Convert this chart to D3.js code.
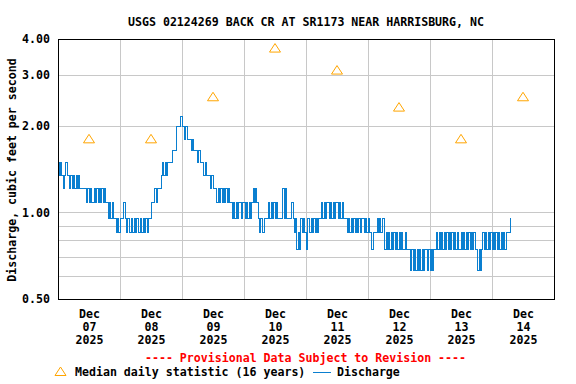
<!DOCTYPE html>
<html>
<head>
<meta charset="utf-8">
<script src="https://cdn.jsdelivr.net/npm/d3@7"></script>
<style>
body { margin: 0; background: #fff; }
svg text { font-family: "DejaVu Sans Mono", "Liberation Mono", monospace; font-weight: bold; font-size: 11.6px; fill: #000; }
</style>
</head>
<body>
<svg id="chart" width="576" height="384"></svg>
<script>
const title = "USGS 02124269 BACK CR AT SR1173 NEAR HARRISBURG, NC";
const yLabel = "Discharge, cubic feet per second";
const yTicks = [4.0, 3.0, 2.0, 1.0, 0.5];
const yGrid = [3.0, 2.0, 1.0, 0.9, 0.8, 0.7, 0.6];
const dayLabels = ["07", "08", "09", "10", "11", "12", "13", "14"];
const monthLabel = "Dec";
const yearLabel = "2025";
// median daily statistic, one per day (noon)
const medianValues = [1.80, 1.80, 2.52, 3.72, 3.12, 2.32, 1.80, 2.52];

// discharge, half-hourly readings
const dec07 = [1.49,1.34,1.49,1.34,1.21,1.34,1.49,1.34, 1.34,1.21,1.34,1.21,1.34,1.21,1.34,1.21,
               1.34,1.21,1.21,1.21,1.21,1.21,1.08,1.21, 1.08,1.21,1.08,1.08,1.21,1.08,1.21,1.08,
               1.21,1.08,1.21,1.08,1.21,1.08,1.08,0.95, 1.08,0.95,1.08,0.95,0.95,0.85,0.95,0.85];
const dec08 = [0.95,0.95,0.95,1.08,0.95,0.85,0.95,0.85, 0.85,0.95,0.85,0.95,0.85,0.95,0.85,0.85,
               0.95,0.85,0.95,0.85,0.95,0.85,0.95,0.95, 1.08,1.08,1.08,1.21,1.08,1.21,1.21,1.21,
               1.34,1.49,1.34,1.49,1.34,1.49,1.49,1.49, 1.49,1.64,1.64,1.64,1.98,1.98,1.98,2.15];
const dec09 = [1.98,1.98,1.79,1.98,1.79,1.79,1.79,1.64, 1.79,1.64,1.64,1.64,1.49,1.64,1.49,1.49,
               1.49,1.34,1.49,1.34,1.34,1.34,1.21,1.34, 1.21,1.21,1.21,1.08,1.21,1.08,1.21,1.08,
               1.21,1.08,1.21,1.08,1.21,1.08,1.08,0.95, 1.08,0.95,1.08,0.95,1.08,1.08,0.95,1.08];
const dec10 = [1.08,0.95,1.08,0.95,1.08,0.95,1.08,1.21, 1.08,1.21,1.08,0.95,0.85,0.95,0.85,0.85,
               0.95,0.95,0.95,1.08,0.95,1.08,0.95,1.08, 0.95,1.08,0.95,0.95,0.95,0.95,1.21,0.95,
               1.21,0.95,0.95,0.95,0.95,1.08,0.95,0.85, 0.95,0.74,0.85,0.74,0.95,0.85,0.95,0.85];
const dec11 = [0.74,0.95,0.95,0.85,0.95,0.85,0.95,0.85, 0.95,0.85,0.95,0.95,1.08,0.95,1.08,0.95,
               1.08,1.08,0.95,1.08,0.95,1.08,0.95,1.08, 1.08,0.95,1.08,0.95,1.08,0.95,0.95,0.95,
               0.85,0.95,0.85,0.95,0.85,0.95,0.85,0.95, 0.85,0.95,0.85,0.95,0.95,0.85,0.95,0.85];
const dec12 = [0.95,0.85,0.85,0.74,0.85,0.85,0.85,0.95, 0.85,0.95,0.85,0.95,0.95,0.74,0.85,0.74,
               0.85,0.74,0.85,0.74,0.85,0.74,0.85,0.74, 0.85,0.74,0.85,0.74,0.74,0.85,0.74,0.74,
               0.74,0.63,0.74,0.63,0.74,0.63,0.74,0.63, 0.74,0.63,0.74,0.63,0.74,0.74,0.63,0.74];
const dec13 = [0.63,0.74,0.63,0.74,0.74,0.85,0.74,0.85, 0.74,0.85,0.74,0.85,0.74,0.85,0.74,0.85,
               0.74,0.85,0.74,0.85,0.74,0.85,0.74,0.74, 0.85,0.74,0.85,0.74,0.85,0.74,0.85,0.74,
               0.85,0.74,0.85,0.74,0.74,0.63,0.74,0.63, 0.74,0.85,0.74,0.85,0.74,0.85,0.74,0.85];
const dec14 = [0.74,0.85,0.74,0.85,0.74,0.85,0.74,0.85, 0.74,0.85,0.74,0.85,0.85,0.85,0.95,0.95];

const startDate = new Date(2025, 11, 7);
const endDate = new Date(2025, 11, 15);
const halfHour = 30 * 60 * 1000;

function buildSeries(){
  let all = [].concat(dec07, dec08, dec09, dec10, dec11, dec12, dec13, dec14);
  return all.map((v, i) => ({ date: new Date(startDate.getTime() + i * halfHour), value: v }));
}

function drawChart(){
  let svg = d3.select("#chart"),
  margin = {top: 39, right: 22, bottom: 85, left: 58},
  width = +svg.attr("width") - margin.left - margin.right,
  height = +svg.attr("height") - margin.top - margin.bottom;

  let x = d3.scaleTime().domain([startDate, endDate]).range([0, width]);
  let y = d3.scaleLog().domain([0.5, 4.0]).range([height, 0]);

  let g = svg.append("g")
             .attr("transform", "translate(" + margin.left + "," + margin.top + ")");

  // title
  svg.append("text")
     .attr("x", margin.left + width / 2)
     .attr("y", 26)
     .attr("text-anchor", "middle")
     .text(title);

  // grid
  let dayBounds = d3.range(1, 8).map(i => d3.timeDay.offset(startDate, i));
  g.append("g")
   .selectAll("line.vgrid")
   .data(dayBounds)
   .enter().append("line")
   .attr("class", "vgrid")
   .attr("x1", d => Math.round(x(d)) + 0.5)
   .attr("x2", d => Math.round(x(d)) + 0.5)
   .attr("y1", 0)
   .attr("y2", height)
   .attr("stroke", "#c8c8c8");
  g.append("g")
   .selectAll("line.hgrid")
   .data(yGrid)
   .enter().append("line")
   .attr("class", "hgrid")
   .attr("x1", 0)
   .attr("x2", width)
   .attr("y1", d => Math.round(y(d)) + 0.5)
   .attr("y2", d => Math.round(y(d)) + 0.5)
   .attr("stroke", "#c8c8c8");

  // y axis labels
  let yAxis = g.append("g")
   .attr("class", "axis axis--y")
   .call(d3.axisLeft(y).tickValues(yTicks).tickFormat(d3.format(".2f")).tickSize(0).tickPadding(8));
  yAxis.select(".domain").remove();
  yAxis.selectAll("text").attr("fill", "#000").style("font-size", "11.6px")
       .style("font-family", "'DejaVu Sans Mono', monospace").style("font-weight", "bold");

  svg.append("text")
     .attr("transform", "translate(16," + (margin.top + height / 2 + 1) + ") rotate(-90)")
     .attr("text-anchor", "middle")
     .text(yLabel);

  // x labels at noon
  let noons = dayLabels.map((d, i) => d3.timeHour.offset(d3.timeDay.offset(startDate, i), 12));
  let xl = g.append("g").selectAll(".xlabel")
   .data(noons)
   .enter().append("text")
   .attr("class", "xlabel")
   .attr("text-anchor", "middle")
   .attr("transform", d => "translate(" + (x(d) + 0.5) + "," + height + ")");
  xl.append("tspan").attr("x", 0).attr("y", 19).text(monthLabel);
  xl.append("tspan").attr("x", 0).attr("y", 32).text((d, i) => dayLabels[i]);
  xl.append("tspan").attr("x", 0).attr("y", 45).text(yearLabel);

  // discharge step line
  let line = d3.line()
    .curve(d3.curveStepAfter)
    .x(d => x(d.date))
    .y(d => y(d.value));
  g.append("path")
   .datum(buildSeries())
   .attr("class", "line")
   .attr("d", line)
   .attr("fill", "none")
   .attr("stroke", "#0a7fd0")
   .attr("stroke-width", 1)
   .attr("shape-rendering", "crispEdges");

  // median triangles
  let tri = "M0,-4.5L5.5,4L-5.5,4Z";
  g.selectAll(".median")
   .data(medianValues)
   .enter().append("path")
   .attr("class", "median")
   .attr("d", tri)
   .attr("transform", (d, i) => "translate(" + x(noons[i]) + "," + y(d) + ")")
   .attr("fill", "none")
   .attr("stroke", "#ffa500")
   .attr("stroke-width", 1);

  // frame
  g.append("rect")
   .attr("x", 0.5).attr("y", 0.5)
   .attr("width", width).attr("height", height)
   .attr("fill", "none")
   .attr("stroke", "#000")
   .attr("stroke-width", 1);

  // provisional note
  svg.append("text")
     .attr("x", 305.5)
     .attr("y", 362)
     .attr("text-anchor", "middle")
     .style("fill", "#ff0000")
     .text("---- Provisional Data Subject to Revision ----");

  // legend
  let legend = svg.append("g").attr("class", "legend");
  legend.append("path")
        .attr("d", tri)
        .attr("transform", "translate(60.5,371.5)")
        .attr("fill", "none")
        .attr("stroke", "#ffa500");
  legend.append("text").attr("x", 75).attr("y", 376).text("Median daily statistic (16 years)");
  legend.append("line")
        .attr("x1", 313).attr("x2", 331)
        .attr("y1", 372.5).attr("y2", 372.5)
        .attr("stroke", "#0a7fd0");
  legend.append("text").attr("x", 337).attr("y", 376).text("Discharge");
}

drawChart();
</script>
</body>
</html>
